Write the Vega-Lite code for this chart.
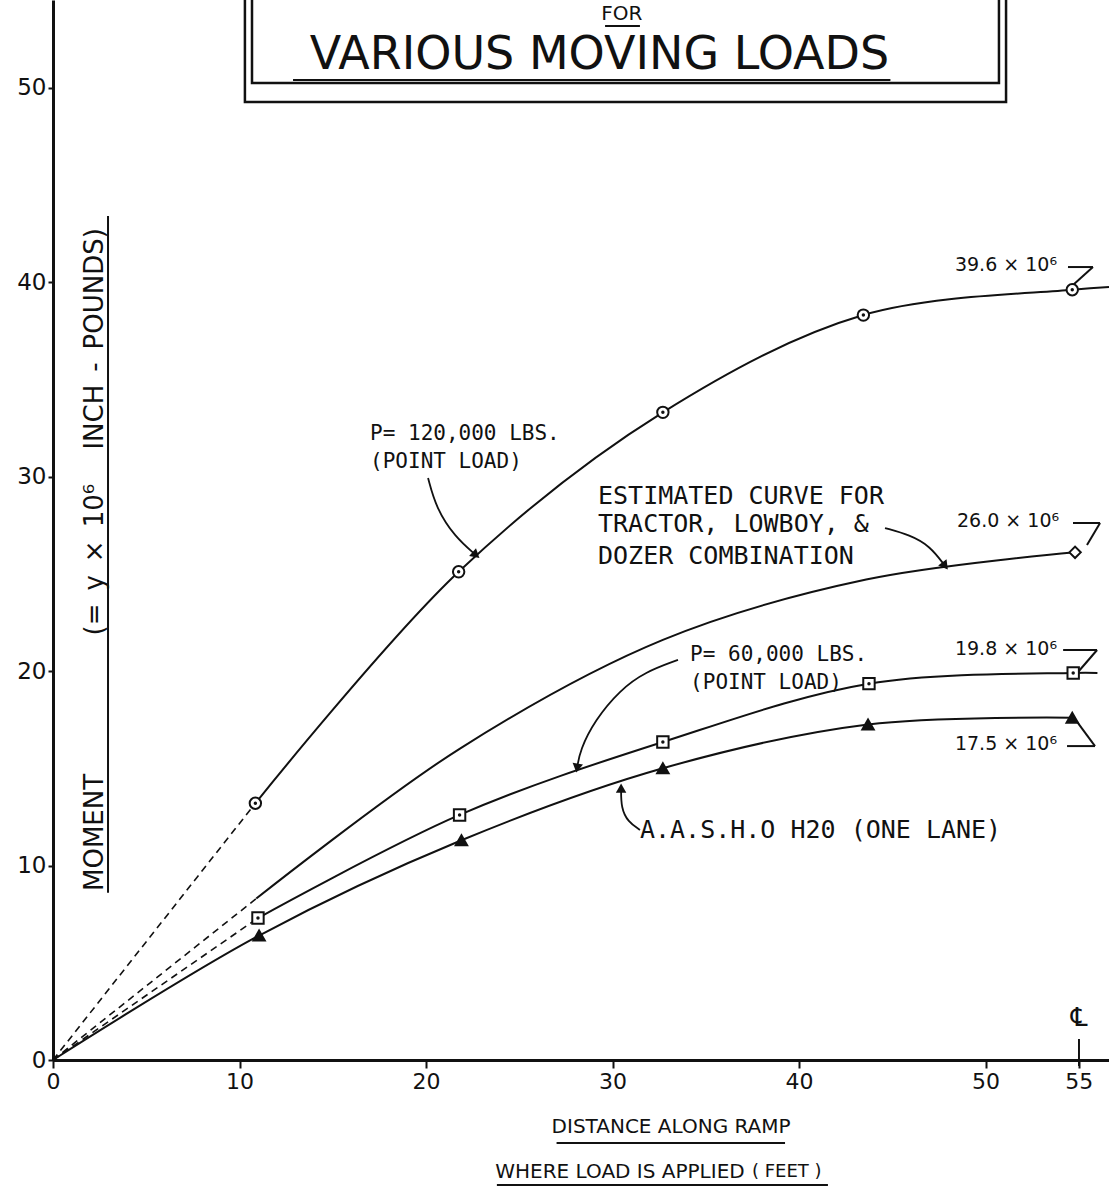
{
  "$schema": "https://vega.github.io/schema/vega-lite/v6.json",
  "width": 1056,
  "height": 1060,
  "autosize": {"type": "none"},
  "padding": {"left": 53, "top": 0, "right": 0, "bottom": 127},
  "background": "#ffffff",
  "config": {"view": {"stroke": null}, "font": "DejaVu Sans"},
  "datasets": {
    "curves": [
      {"series": "P = 120,000 lbs", "x": 0, "y": 0, "marked": false},
      {"series": "P = 120,000 lbs", "x": 10.85, "y": 13.2, "marked": true},
      {"series": "P = 120,000 lbs", "x": 21.75, "y": 25.1, "marked": true},
      {"series": "P = 120,000 lbs", "x": 32.7, "y": 33.3, "marked": true},
      {"series": "P = 120,000 lbs", "x": 43.45, "y": 38.3, "marked": true},
      {"series": "P = 120,000 lbs", "x": 54.65, "y": 39.6, "marked": true},
      {"series": "P = 120,000 lbs", "x": 56.62, "y": 39.75, "marked": false},
      {"series": "Estimated tractor, lowboy & dozer", "x": 0, "y": 0, "marked": false},
      {"series": "Estimated tractor, lowboy & dozer", "x": 10.9, "y": 8.3, "marked": false},
      {"series": "Estimated tractor, lowboy & dozer", "x": 21.8, "y": 16.0, "marked": false},
      {"series": "Estimated tractor, lowboy & dozer", "x": 32.7, "y": 21.6, "marked": false},
      {"series": "Estimated tractor, lowboy & dozer", "x": 43.6, "y": 24.7, "marked": false},
      {"series": "Estimated tractor, lowboy & dozer", "x": 54.8, "y": 26.1, "marked": true},
      {"series": "P = 60,000 lbs", "x": 0, "y": 0, "marked": false},
      {"series": "P = 60,000 lbs", "x": 10.99, "y": 7.3, "marked": true},
      {"series": "P = 60,000 lbs", "x": 21.8, "y": 12.6, "marked": true},
      {"series": "P = 60,000 lbs", "x": 32.7, "y": 16.35, "marked": true},
      {"series": "P = 60,000 lbs", "x": 43.75, "y": 19.35, "marked": true},
      {"series": "P = 60,000 lbs", "x": 54.7, "y": 19.9, "marked": true},
      {"series": "P = 60,000 lbs", "x": 56.0, "y": 19.9, "marked": false},
      {"series": "AASHO H20", "x": 0, "y": 0, "marked": false},
      {"series": "AASHO H20", "x": 11.05, "y": 6.4, "marked": true},
      {"series": "AASHO H20", "x": 21.9, "y": 11.3, "marked": true},
      {"series": "AASHO H20", "x": 32.7, "y": 15.0, "marked": true},
      {"series": "AASHO H20", "x": 43.7, "y": 17.25, "marked": true},
      {"series": "AASHO H20", "x": 54.65, "y": 17.6, "marked": true}
    ],
    "boxes": [
      {"frame": "outer", "x": 10.29, "x2": 51.1, "y": 49.25, "y2": 56},
      {"frame": "inner", "x": 10.67, "x2": 50.72, "y": 50.23, "y2": 56}
    ],
    "strokes": [
      {"x": 12.87, "y": 50.39, "x2": 44.9, "y2": 50.39},
      {"x": 29.6, "y": 53.16, "x2": 31.47, "y2": 53.16},
      {"x": 2.95, "y": 8.6, "x2": 2.95, "y2": 43.4},
      {"x": 27.0, "y": -4.27, "x2": 39.25, "y2": -4.27},
      {"x": 23.8, "y": -6.43, "x2": 41.55, "y2": -6.43},
      {"x": 54.42, "y": 40.77, "x2": 55.76, "y2": 40.77},
      {"x": 55.76, "y": 40.77, "x2": 54.69, "y2": 39.85},
      {"x": 54.69, "y": 27.61, "x2": 56.14, "y2": 27.61},
      {"x": 56.14, "y": 27.61, "x2": 55.44, "y2": 26.48},
      {"x": 54.16, "y": 21.08, "x2": 55.98, "y2": 21.08},
      {"x": 55.98, "y": 21.08, "x2": 54.96, "y2": 19.95},
      {"x": 54.37, "y": 16.14, "x2": 55.87, "y2": 16.14},
      {"x": 55.87, "y": 16.14, "x2": 54.91, "y2": 17.38},
      {"x": 55.01, "y": 1.08, "x2": 55.01, "y2": -0.31}
    ],
    "arrows": [
      {"arrow": "a1", "step": 1, "x": 20.11, "y": 29.92},
      {"arrow": "a1", "step": 2, "x": 20.54, "y": 28.38},
      {"arrow": "a1", "step": 3, "x": 21.55, "y": 26.89},
      {"arrow": "a1", "step": 4, "x": 22.68, "y": 25.96},
      {"arrow": "a2", "step": 1, "x": 44.61, "y": 27.35},
      {"arrow": "a2", "step": 2, "x": 45.95, "y": 26.99},
      {"arrow": "a2", "step": 3, "x": 47.02, "y": 26.43},
      {"arrow": "a2", "step": 4, "x": 47.83, "y": 25.4},
      {"arrow": "a3", "step": 1, "x": 33.51, "y": 20.57},
      {"arrow": "a3", "step": 2, "x": 31.74, "y": 19.95},
      {"arrow": "a3", "step": 3, "x": 30.4, "y": 19.02},
      {"arrow": "a3", "step": 4, "x": 29.06, "y": 17.48},
      {"arrow": "a3", "step": 5, "x": 28.26, "y": 15.94},
      {"arrow": "a3", "step": 6, "x": 28.1, "y": 15.01},
      {"arrow": "a4", "step": 1, "x": 31.47, "y": 11.83},
      {"arrow": "a4", "step": 2, "x": 30.83, "y": 12.24},
      {"arrow": "a4", "step": 3, "x": 30.46, "y": 12.96},
      {"arrow": "a4", "step": 4, "x": 30.46, "y": 13.98}
    ],
    "heads": [
      {"x": 22.68, "y": 25.96, "heading": 41},
      {"x": 47.83, "y": 25.4, "heading": 53},
      {"x": 28.1, "y": 15.01, "heading": 99},
      {"x": 30.46, "y": 13.98, "heading": 270}
    ],
    "notes": [
      {"role": "title", "text": "VARIOUS MOVING LOADS", "x": 29.3, "y": 51.67},
      {"role": "for", "text": "FOR", "x": 30.5, "y": 53.78},
      {"role": "ytitle", "text": "MOMENT", "x": 2.25, "y": 11.7},
      {"role": "ytitle", "text": "(=\u2002y\u2002×\u200210⁶\u2003 INCH\u2002-\u2002POUNDS)", "x": 2.25, "y": 32.3},
      {"role": "xtitle", "text": "DISTANCE ALONG RAMP", "x": 33.14, "y": -3.44},
      {"role": "xtitle", "text": "WHERE LOAD IS APPLIED", "x": 30.4, "y": -5.76},
      {"role": "xsmall", "text": "( FEET )", "x": 37.48, "y": -5.76},
      {"role": "note", "text": "P= 120,000 LBS.", "x": 17.0, "y": 32.2},
      {"role": "note", "text": "(POINT  LOAD)", "x": 17.0, "y": 30.75},
      {"role": "note", "text": "P= 60,000 LBS.", "x": 34.16, "y": 20.8},
      {"role": "note", "text": "(POINT LOAD)", "x": 34.16, "y": 19.4},
      {"role": "notelg", "text": "ESTIMATED CURVE FOR", "x": 29.22, "y": 29.0},
      {"role": "notelg", "text": "TRACTOR, LOWBOY, &", "x": 29.22, "y": 27.56},
      {"role": "notelg", "text": "DOZER COMBINATION", "x": 29.22, "y": 25.9},
      {"role": "notelg", "text": "A.A.S.H.O H20 (ONE LANE)", "x": 31.47, "y": 11.8},
      {"role": "value", "text": "39.6 × 10⁶", "x": 48.36, "y": 40.9},
      {"role": "value", "text": "26.0 × 10⁶", "x": 48.47, "y": 27.7},
      {"role": "value", "text": "19.8 × 10⁶", "x": 48.36, "y": 21.13},
      {"role": "value", "text": "17.5 × 10⁶", "x": 48.36, "y": 16.25},
      {"role": "cl", "text": "℄", "x": 55.01, "y": 2.16}
    ]
  },
  "encoding": {
    "x": {
      "field": "x", "type": "quantitative",
      "scale": {"domain": [0, 56.62], "nice": false, "zero": false},
      "axis": {"values": [0, 10, 20, 30, 40, 50, 55], "title": null, "grid": false, "domainColor": "#111", "domainWidth": 3, "tickColor": "#111", "tickWidth": 2, "tickSize": 8, "labelFontSize": 22, "labelColor": "#111", "labelPadding": 3, "labelFlush": false, "labelFont": "DejaVu Sans", "format": "d"}
    },
    "y": {
      "field": "y", "type": "quantitative",
      "scale": {"domain": [0, 54.5], "nice": false, "zero": false},
      "axis": {"values": [0, 10, 20, 30, 40, 50], "title": null, "grid": false, "domainColor": "#111", "domainWidth": 3, "tickColor": "#111", "tickWidth": 2, "tickSize": 5, "labelFontSize": 23, "labelColor": "#111", "labelPadding": 2, "labelFont": "DejaVu Sans", "format": "d"}
    }
  },
  "layer": [
    {
      "data": {"name": "boxes"},
      "mark": {"type": "rect", "fillOpacity": 0, "stroke": "#111", "strokeWidth": 2.5, "clip": true},
      "encoding": {"x2": {"field": "x2"}, "y2": {"field": "y2"}}
    },
    {
      "data": {"name": "strokes"},
      "mark": {"type": "rule", "stroke": "#111", "strokeWidth": 2},
      "encoding": {"x2": {"field": "x2"}, "y2": {"field": "y2"}}
    },
    {
      "data": {"name": "curves"},
      "transform": [{"filter": "datum.x <= 11.2 && datum.series !== 'AASHO H20'"}],
      "mark": {"type": "line", "stroke": "#111", "strokeWidth": 1.6, "strokeDash": [7, 5]},
      "encoding": {"detail": {"field": "series"}, "order": {"field": "x", "type": "quantitative"}}
    },
    {
      "data": {"name": "curves"},
      "transform": [{"filter": "datum.x >= 10.8 || datum.series === 'AASHO H20'"}],
      "mark": {"type": "line", "stroke": "#111", "strokeWidth": 2, "interpolate": "catmull-rom"},
      "encoding": {"detail": {"field": "series"}, "order": {"field": "x", "type": "quantitative"}}
    },
    {
      "data": {"name": "arrows"},
      "mark": {"type": "line", "stroke": "#111", "strokeWidth": 1.8, "interpolate": "basis"},
      "encoding": {"detail": {"field": "arrow"}, "order": {"field": "step", "type": "quantitative"}}
    },
    {
      "data": {"name": "heads"},
      "mark": {"type": "point", "shape": "triangle-right", "filled": true, "fill": "#111", "opacity": 1, "size": 110},
      "encoding": {"angle": {"field": "heading", "type": "quantitative", "scale": null}}
    },
    {
      "data": {"name": "curves"},
      "transform": [{"filter": "datum.marked"}],
      "mark": {"type": "point", "filled": true, "opacity": 1, "stroke": "#111", "strokeWidth": 2, "size": 130},
      "encoding": {
        "shape": {"field": "series", "type": "nominal", "scale": {"domain": ["P = 120,000 lbs", "Estimated tractor, lowboy & dozer", "P = 60,000 lbs", "AASHO H20"], "range": ["circle", "diamond", "square", "triangle-up"]}, "legend": null},
        "fill": {"condition": {"test": "datum.series === 'AASHO H20'", "value": "#111"}, "value": "#ffffff"}
      }
    },
    {
      "data": {"name": "curves"},
      "transform": [{"filter": "datum.marked && (datum.series === 'P = 120,000 lbs' || datum.series === 'P = 60,000 lbs')"}],
      "mark": {"type": "point", "shape": "circle", "filled": true, "fill": "#111", "opacity": 1, "size": 12}
    },
    {
      "data": {"name": "notes"},
      "transform": [{"filter": "datum.role === 'title'"}],
      "mark": {"type": "text", "fontSize": 46, "align": "center", "baseline": "middle", "color": "#111", "font": "DejaVu Sans"},
      "encoding": {"text": {"field": "text"}}
    },
    {
      "data": {"name": "notes"},
      "transform": [{"filter": "datum.role === 'for'"}],
      "mark": {"type": "text", "fontSize": 20, "align": "center", "baseline": "middle", "color": "#111", "font": "DejaVu Sans"},
      "encoding": {"text": {"field": "text"}}
    },
    {
      "data": {"name": "notes"},
      "transform": [{"filter": "datum.role === 'ytitle'"}],
      "mark": {"type": "text", "fontSize": 26, "align": "center", "baseline": "middle", "angle": 270, "color": "#111", "font": "DejaVu Sans"},
      "encoding": {"text": {"field": "text"}}
    },
    {
      "data": {"name": "notes"},
      "transform": [{"filter": "datum.role === 'xtitle'"}],
      "mark": {"type": "text", "fontSize": 20, "align": "center", "baseline": "middle", "color": "#111", "font": "DejaVu Sans"},
      "encoding": {"text": {"field": "text"}}
    },
    {
      "data": {"name": "notes"},
      "transform": [{"filter": "datum.role === 'xsmall'"}],
      "mark": {"type": "text", "fontSize": 18, "align": "left", "baseline": "middle", "color": "#111", "font": "DejaVu Sans"},
      "encoding": {"text": {"field": "text"}}
    },
    {
      "data": {"name": "notes"},
      "transform": [{"filter": "datum.role === 'note'"}],
      "mark": {"type": "text", "fontSize": 21, "align": "left", "baseline": "middle", "color": "#111", "font": "DejaVu Sans Mono"},
      "encoding": {"text": {"field": "text"}}
    },
    {
      "data": {"name": "notes"},
      "transform": [{"filter": "datum.role === 'notelg'"}],
      "mark": {"type": "text", "fontSize": 25, "align": "left", "baseline": "middle", "color": "#111", "font": "DejaVu Sans Mono"},
      "encoding": {"text": {"field": "text"}}
    },
    {
      "data": {"name": "notes"},
      "transform": [{"filter": "datum.role === 'value'"}],
      "mark": {"type": "text", "fontSize": 19, "align": "left", "baseline": "middle", "color": "#111", "font": "DejaVu Sans"},
      "encoding": {"text": {"field": "text"}}
    },
    {
      "data": {"name": "notes"},
      "transform": [{"filter": "datum.role === 'cl'"}],
      "mark": {"type": "text", "fontSize": 26, "align": "center", "baseline": "middle", "color": "#111", "font": "DejaVu Sans"},
      "encoding": {"text": {"field": "text"}}
    }
  ]
}
